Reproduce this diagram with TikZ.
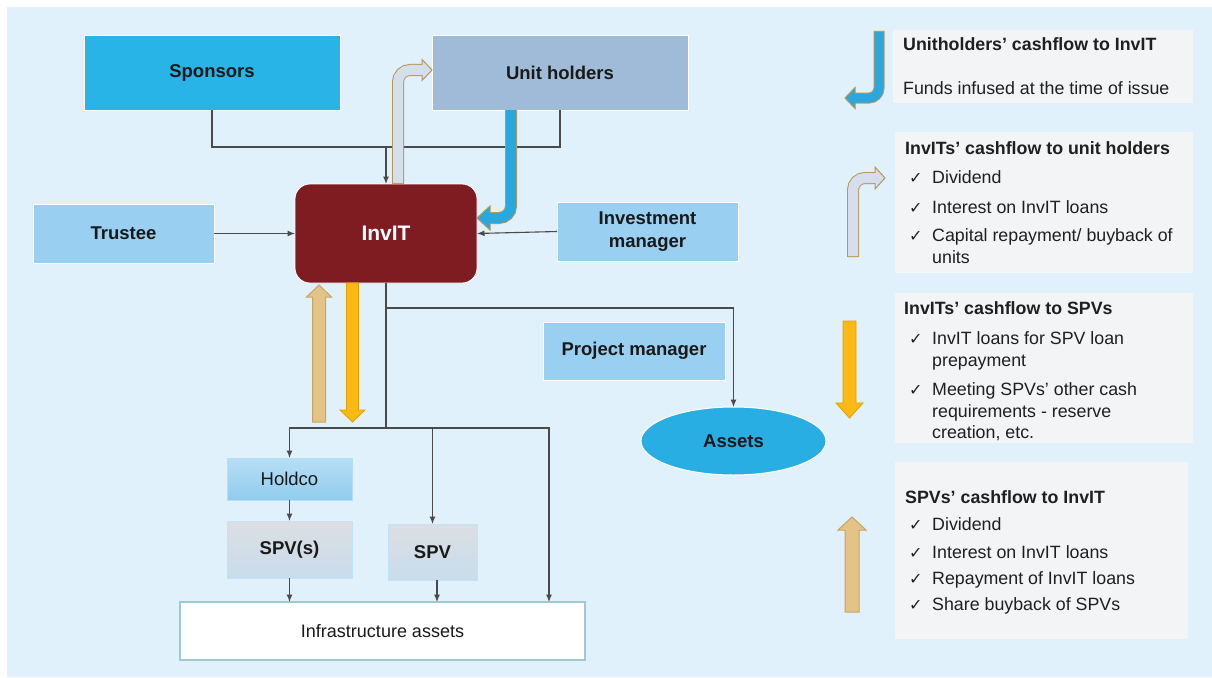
\documentclass[tikz,border=0pt]{standalone}
\usepackage{fontspec}
\setmainfont{Liberation Sans}
\newfontfamily\dejavu{DejaVu Sans}
\usetikzlibrary{arrows.meta,shapes.geometric}
\definecolor{bgc}{HTML}{E0F1FB}
\definecolor{sponc}{HTML}{28B4E6}
\definecolor{unitc}{HTML}{A0BBD7}
\definecolor{lbc}{HTML}{99D0F1}
\definecolor{invc}{HTML}{7E1C21}
\definecolor{assc}{HTML}{29AEE4}
\definecolor{panc}{HTML}{F3F4F6}
\definecolor{linec}{HTML}{4A4A4A}
\definecolor{goldc}{HTML}{B8975A}
\definecolor{tanc}{HTML}{E3C386}
\definecolor{tanb}{HTML}{C9A462}
\definecolor{yelc}{HTML}{FDB913}
\definecolor{yelb}{HTML}{E39E00}
\definecolor{bluec}{HTML}{2AA7DC}
\definecolor{grayc}{HTML}{D5DFEC}
\definecolor{infrab}{HTML}{9FC9CC}
\definecolor{hdtop}{HTML}{B8DEF5}
\definecolor{hdbot}{HTML}{8FCCEE}
\definecolor{sptop}{HTML}{DCDEE2}
\definecolor{spbot}{HTML}{C8DDEC}
\begin{document}
\begin{tikzpicture}[x=1pt,y=-1pt,
  box/.style={rectangle,draw=white,line width=0.8pt,inner sep=0pt,outer sep=0pt,align=center,
    font=\fontsize{18.5}{23}\selectfont\bfseries,text=black!90},
  conn/.style={draw=linec,line width=1.1pt},
  arr/.style={conn,-{Latex[length=7.5pt,width=6pt]}},
  lt/.style={anchor=base west,inner sep=0pt,font=\fontsize{17.8}{20}\selectfont,text=black!88},
  ltb/.style={lt,font=\fontsize{17.8}{20}\selectfont\bfseries},
  ck/.style={anchor=base west,inner sep=0pt,font=\dejavu\fontsize{16}{18}\selectfont,text=black!88},
  pan/.style={fill=panc}]
\useasboundingbox (0,0) rectangle (1212,677);
\fill[bgc] (7,7) rectangle (1212,677);

% nodes
\node[box,fill=sponc,minimum width=256pt,minimum height=75pt] (spons) at (212,72.5) {Sponsors};
\node[box,fill=unitc,minimum width=256pt,minimum height=75pt] (unith) at (560,72.5) {Unit holders};
\node[box,fill=lbc,minimum width=181pt,minimum height=59pt] (trust) at (123.5,233.5) {Trustee};
\node[box,fill=invc,rounded corners=15pt,minimum width=182pt,minimum height=99pt,
  text=white,font=\fontsize{21}{24}\selectfont\bfseries] (invit) at (386,233.5) {InvIT};
\node[box,fill=lbc,minimum width=181pt,minimum height=59pt] (invm) at (647.5,231.5) {Investment\\manager};
\node[box,fill=lbc,minimum width=182pt,minimum height=58pt] (projm) at (634,351) {Project manager};
\node[ellipse,draw=white,line width=1pt,fill=assc,inner sep=0pt,outer sep=0pt,minimum width=185pt,minimum height=68pt,
  font=\fontsize{18.5}{23}\selectfont\bfseries,text=black!90] (assets) at (733.5,441) {Assets};
\node[box,draw=lbc!70,top color=hdtop,bottom color=hdbot,
  minimum width=125pt,minimum height=42pt,font=\fontsize{18.5}{23}\selectfont] (holdco) at (289.5,479) {Holdco};
\node[box,draw=lbc!60,top color=sptop,bottom color=spbot,
  minimum width=125pt,minimum height=57pt] (spvs) at (289.5,549.5) {SPV(s)};
\node[box,draw=lbc!60,top color=sptop,bottom color=spbot,
  minimum width=89pt,minimum height=56pt] (spv) at (432.5,552) {SPV};
\node[box,fill=white,draw=infrab,line width=1.2pt,minimum width=405pt,minimum height=58pt,
  font=\fontsize{18}{22}\selectfont] (infra) at (382.5,631) {Infrastructure assets};

% connectors
\draw[conn] (spons.south) -- ++(0,37) -| (unith.south);
\coordinate (jn) at (386,147);
\draw[arr] (jn) -- (invit.north);
\draw[arr] (trust.east) -- (invit.west);
\draw[arr] (invm.west) -- (invit.east);
\coordinate (bj) at (386,428);
\coordinate (aj) at (386,308);
\draw[conn] (invit.south) -- (bj);
\draw[arr] (aj) -| (assets.north);
\draw[arr] (bj) -| (holdco.north);
\draw[arr] (bj) -| (spv.north);
\coordinate (infr) at (549,602);
\draw[arr] (bj) -| (infr);
\draw[arr] (holdco.south) -- (spvs.north);
\draw[arr] (spvs.south) -- (spvs.south |- infra.north);
\coordinate (spvb) at (437,580);
\coordinate (spvi) at (437,602);
\draw[arr] (spvb) -- (spvi);

% thick straight arrows (main)
\draw[fill=tanc,draw=tanb,line width=1pt] (312.5,422) -- (312.5,297) -- (306.5,297) -- (319,285) -- (331.5,297) -- (325.5,297) -- (325.5,422) -- cycle;
\draw[fill=yelc,draw=yelb,line width=0.8pt] (346.5,283) -- (346.5,410) -- (340,410) -- (352.5,422) -- (365,410) -- (358.5,410) -- (358.5,283) -- cycle;

% bent arrow InvIT -> Unit holders
\draw[goldc,line width=12pt,rounded corners=12pt] (398,184) |- (422,70);
\draw[fill=grayc,draw=goldc,line width=1pt] (422,59.5) -- (432,70) -- (422,80.5) -- cycle;
\draw[grayc,line width=10pt,rounded corners=12pt] (398,183) |- (423.5,70);

% J arrow Unit holders -> InvIT
\draw[goldc,line width=12pt,rounded corners=12pt] (511,110) |- (490,218);
\draw[fill=bluec,draw=goldc,line width=1pt] (490,206) -- (477,218) -- (490,230) -- cycle;
\draw[bluec,line width=10pt,rounded corners=12pt] (511,110) |- (488.5,218);

% legend panels
\fill[pan] (893,30) rectangle (1193,103);
\fill[pan] (895,132) rectangle (1193,273);
\fill[pan] (895,293) rectangle (1193,443);
\fill[pan] (895,462) rectangle (1188,639);

% legend arrows
\draw[goldc,line width=11pt,rounded corners=10pt] (879,31) |- (855,98);
\draw[fill=bluec,draw=goldc,line width=1pt] (855,87.5) -- (845,98) -- (855,108.5) -- cycle;
\draw[bluec,line width=9pt,rounded corners=10pt] (879,32) |- (853.5,98);

\draw[goldc,line width=12pt,rounded corners=12pt] (853,257) |- (875,178);
\draw[fill=grayc,draw=goldc,line width=1pt] (875,167) -- (885,178) -- (875,189) -- cycle;
\draw[grayc,line width=10pt,rounded corners=12pt] (853,256) |- (876.5,178);

\draw[fill=yelc,draw=yelb,line width=0.8pt] (843,321) -- (843,403) -- (836,403) -- (849.5,418) -- (863,403) -- (856,403) -- (856,321) -- cycle;
\draw[fill=tanc,draw=tanb,line width=1pt] (845,612) -- (845,530) -- (838,530) -- (852,517) -- (866,530) -- (859,530) -- (859,612) -- cycle;

% legend texts
\node[ltb] (t1) at (903,51) {Unitholders’ cashflow to InvIT};
\node[lt] (t1a) at (903,94) {Funds infused at the time of issue};

\node[ltb] (t2) at (905,154) {InvITs’ cashflow to unit holders};
\node[ck] (c2a) at (909,183) {✓};
\node[lt] (t2a) at (932,183) {Dividend};
\node[ck] (c2b) at (909,213) {✓};
\node[lt] (t2b) at (932,213) {Interest on InvIT loans};
\node[ck] (c2c) at (909,241) {✓};
\node[lt] (t2c) at (932,241) {Capital repayment/ buyback of};
\node[lt] (t2d) at (932,263) {units};

\node[ltb] (t3) at (904,314) {InvITs’ cashflow to SPVs};
\node[ck] (c3a) at (909,344) {✓};
\node[lt] (t3a) at (932,344) {InvIT loans for SPV loan};
\node[lt] (t3b) at (932,366) {prepayment};
\node[ck] (c3c) at (909,395) {✓};
\node[lt] (t3c) at (932,395) {Meeting SPVs’ other cash};
\node[lt] (t3d) at (932,417) {requirements - reserve};
\node[lt] (t3e) at (932,438) {creation, etc.};

\node[ltb] (t4) at (905,503) {SPVs’ cashflow to InvIT};
\node[ck] (c4a) at (909,530) {✓};
\node[lt] (t4a) at (932,530) {Dividend};
\node[ck] (c4b) at (909,558) {✓};
\node[lt] (t4b) at (932,558) {Interest on InvIT loans};
\node[ck] (c4c) at (909,584) {✓};
\node[lt] (t4c) at (932,584) {Repayment of InvIT loans};
\node[ck] (c4d) at (909,610) {✓};
\node[lt] (t4d) at (932,610) {Share buyback of SPVs};
\end{tikzpicture}
\end{document}
